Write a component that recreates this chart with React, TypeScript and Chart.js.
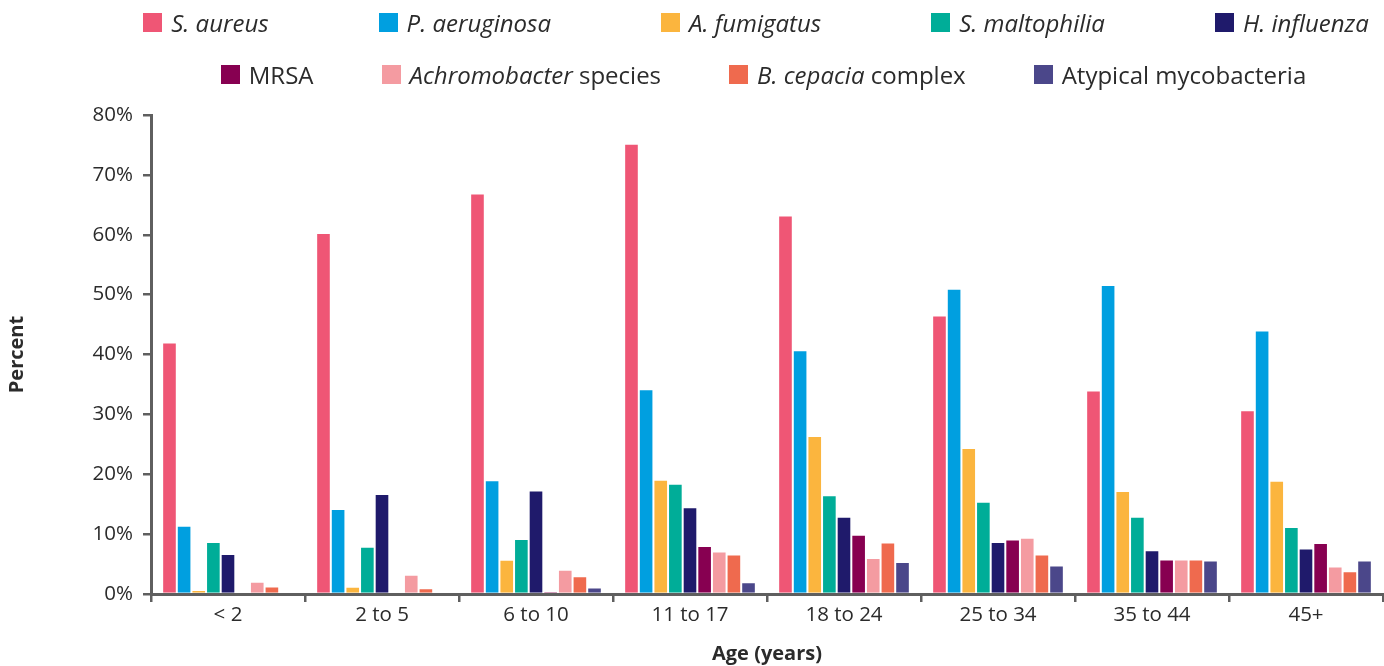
import React, { useEffect, useRef } from "react";
import { Chart, registerables } from "chart.js";

Chart.register(...registerables);

const categories = ["< 2", "2 to 5", "6 to 10", "11 to 17", "18 to 24", "25 to 34", "35 to 44", "45+"];

const seriesNames = [
  "S. aureus",
  "P. aeruginosa",
  "A. fumigatus",
  "S. maltophilia",
  "H. influenza",
  "MRSA",
  "Achromobacter species",
  "B. cepacia complex",
  "Atypical mycobacteria",
];
const italicParts = [
  "S. aureus",
  "P. aeruginosa",
  "A. fumigatus",
  "S. maltophilia",
  "H. influenza",
  "",
  "Achromobacter",
  "B. cepacia",
  "",
];
const colors = ["#EF5675", "#009FE0", "#FBB53E", "#00AD98", "#1F1A6B", "#870051", "#F49BA1", "#EF6A4E", "#4B478A"];

const sAureus = [42.0, 60.3, 66.9, 75.2, 63.2, 46.5, 34.0, 30.7];
const pAeruginosa = [11.4, 14.2, 19.0, 34.2, 40.7, 51.0, 51.6, 44.0];
const aFumigatus = [0.65, 1.2, 5.7, 19.1, 26.4, 24.4, 17.2, 18.9];
const sMaltophilia = [8.7, 7.9, 9.2, 18.4, 16.5, 15.4, 12.9, 11.2];
const hInfluenza = [6.7, 16.7, 17.3, 14.5, 12.9, 8.7, 7.3, 7.6];
const mrsa = [0, 0, 0.35, 8.0, 9.9, 9.1, 5.75, 8.5];
const achromobacter = [2.05, 3.2, 4.05, 7.1, 6.0, 9.4, 5.75, 4.6];
const bCepacia = [1.25, 0.95, 2.95, 6.6, 8.6, 6.6, 5.75, 3.8];
const atypical = [0, 0.25, 1.1, 1.95, 5.35, 4.75, 5.6, 5.6];

const seriesValues = [sAureus, pAeruginosa, aFumigatus, sMaltophilia, hInfluenza, mrsa, achromobacter, bCepacia, atypical];

const yTicks = [0, 10, 20, 30, 40, 50, 60, 70, 80];

const FONT = "'Open Sans', 'Noto Sans', sans-serif";
const TEXT = "#2b2b2b";
const AXIS = "#5f5f5f";

function LegendItem({ i }: { i: number }) {
  const it = italicParts[i];
  const rest = seriesNames[i].slice(it.length);
  return (
    <div style={{ display: "flex", alignItems: "center", whiteSpace: "nowrap" }}>
      <span style={{ width: 19, height: 19, background: colors[i], display: "inline-block", marginRight: 9 }} />
      <span>
        {it ? <i>{it}</i> : null}
        {rest}
      </span>
    </div>
  );
}

export default function App() {
  const ref = useRef<HTMLCanvasElement | null>(null);

  useEffect(() => {
    if (!ref.current) return;
    const chart = new Chart(ref.current, {
      type: "bar",
      data: {
        labels: categories,
        datasets: seriesNames.map((name, i) => ({
          label: name,
          data: seriesValues[i],
          backgroundColor: colors[i],
          borderColor: "rgba(255,255,255,0.45)",
          borderWidth: 1,
          borderSkipped: "bottom",
          categoryPercentage: 0.855,
          barPercentage: 1.0,
        })),
      },
      options: {
        animation: false,
        responsive: false,
        maintainAspectRatio: false,
        layout: { padding: { top: 115, left: 0, right: 1, bottom: 0 } },
        plugins: { legend: { display: false }, tooltip: { enabled: false } },
        scales: {
          x: {
            type: "category",
            grid: {
              display: true,
              drawOnChartArea: false,
              drawTicks: true,
              offset: true,
              tickLength: 8,
              color: AXIS,
              lineWidth: 2.5,
            },
            border: { display: true, color: AXIS, width: 3 },
            ticks: { color: TEXT, font: { family: FONT, size: 20.5 }, padding: 1 },
            title: {
              display: true,
              text: "Age (years)",
              color: TEXT,
              font: { family: FONT, size: 20, weight: "bold" },
              padding: { top: 0, bottom: 0 },
            },
            afterFit: (s: any) => {
              s.height = 72;
            },
          },
          y: {
            min: 0,
            max: 80,
            afterBuildTicks: (s: any) => {
              s.ticks = yTicks.map((v) => ({ value: v }));
            },
            grid: {
              display: true,
              drawOnChartArea: false,
              drawTicks: true,
              tickLength: 8,
              color: AXIS,
              lineWidth: 2.5,
            },
            border: { display: true, color: AXIS, width: 3 },
            ticks: {
              color: TEXT,
              font: { family: FONT, size: 20.5 },
              padding: 10,
              callback: (v: any) => v + "%",
            },
            title: {
              display: true,
              text: "Percent",
              color: TEXT,
              font: { family: FONT, size: 20, weight: "bold" },
              padding: { top: 5, bottom: 0 },
            },
            afterFit: (s: any) => {
              s.width = 151;
            },
          },
        },
      },
    });
    return () => chart.destroy();
  }, []);

  const rowStyle = (top: number, gap: number, width: number): React.CSSProperties => ({
    position: "absolute",
    left: 0,
    width,
    top,
    height: 28,
    display: "flex",
    justifyContent: "center",
    alignItems: "center",
    gap,
    fontFamily: FONT,
    fontSize: 24,
    color: TEXT,
  });

  return (
    <div style={{ position: "fixed", left: 0, top: 0, width: 1384, height: 666, overflow: "hidden", background: "#fff" }}>
      <canvas ref={ref} width={1384} height={666} style={{ position: "absolute", left: 0, top: 0 }} />
      <div style={rowStyle(8, 110, 1512)}>
        {[0, 1, 2, 3, 4].map((i) => (
          <LegendItem key={i} i={i} />
        ))}
      </div>
      <div style={rowStyle(60, 68, 1527)}>
        {[5, 6, 7, 8].map((i) => (
          <LegendItem key={i} i={i} />
        ))}
      </div>
    </div>
  );
}
